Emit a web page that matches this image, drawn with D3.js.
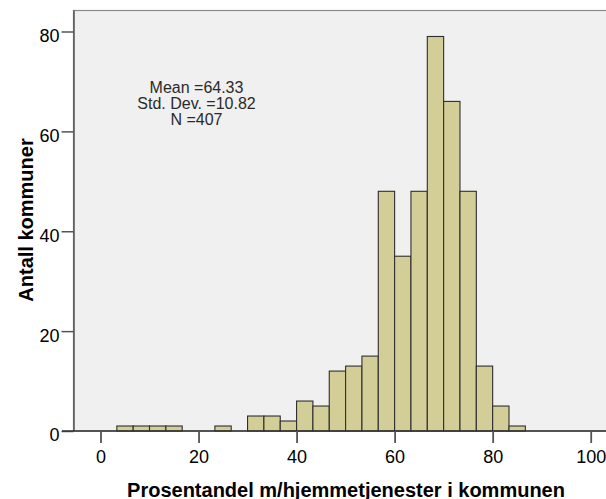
<!DOCTYPE html>
<html>
<head>
<meta charset="utf-8">
<script src="https://cdn.jsdelivr.net/npm/d3@7"></script>
<style>
  html, body { margin: 0; padding: 0; background: #ffffff; }
  svg { display: block; }
</style>
</head>
<body>
<svg id="chart" width="606" height="499"></svg>
<script>
// ---- data ----
const binWidth = 10 / 3;
const binLower = [3.333, 6.667, 10, 13.333, 23.333, 30, 33.333, 36.667, 40, 43.333, 46.667, 50, 53.333, 56.667, 60, 63.333, 66.667, 70, 73.333, 76.667, 80, 83.333];
const binCount = [1, 1, 1, 1, 1, 3, 3, 2, 6, 5, 12, 13, 15, 48, 35, 48, 79, 66, 48, 13, 5, 1];
const xTicks = [0, 20, 40, 60, 80, 100];
const yTicks = [0, 20, 40, 60, 80];
const statsLines = ["Mean =64.33", "Std. Dev. =10.82", "N =407"];
const xTitle = "Prosentandel m/hjemmetjenester i kommunen";
const yTitle = "Antall kommuner";

const bins = binLower.map((lo, i) => ({ x0: lo, x1: lo + binWidth, n: binCount[i] }));

const svg = d3.select("#chart");
const font = "Arial, 'Liberation Sans', Helvetica, sans-serif";

const frame = { left: 73.5, top: 10.5, bottom: 431, right: 640 };

const x = d3.scaleLinear().domain([0, 100]).range([100.5, 590.7]);
const y = d3.scaleLinear().domain([0, 80]).range([431, 31.5]);

// plot background frame
svg.append("rect")
  .attr("x", frame.left).attr("y", frame.top)
  .attr("width", frame.right - frame.left).attr("height", frame.bottom - frame.top)
  .attr("fill", "#f0f0f0")
  .attr("stroke", "#8a8a8a").attr("stroke-width", 1.2);

// bars
svg.append("g").selectAll("rect")
  .data(bins).join("rect")
  .attr("x", d => x(d.x0))
  .attr("y", d => y(d.n))
  .attr("width", d => x(d.x1) - x(d.x0))
  .attr("height", d => y(0) - y(d.n))
  .attr("fill", "#d3ce97")
  .attr("stroke", "#2e2e2e")
  .attr("stroke-width", 1.1);

// y axis
const yAxis = d3.axisLeft(y).tickValues(yTicks).tickSize(12).tickSizeOuter(0).tickPadding(2);
const gy = svg.append("g").attr("transform", `translate(${frame.left},0)`).call(yAxis);
gy.select(".domain").attr("stroke", "#555").attr("stroke-width", 1.5)
  .attr("d", `M0.5,${frame.top}V${frame.bottom}`);
gy.selectAll(".tick line").attr("stroke", "#555").attr("stroke-width", 1.5);
gy.selectAll(".tick text")
  .attr("font-family", font).attr("font-size", 18).attr("fill", "#000")
  .attr("dy", "0.55em");

// x axis
const xAxis = d3.axisBottom(x).tickValues(xTicks).tickSize(12).tickSizeOuter(0).tickPadding(7);
const gx = svg.append("g").attr("transform", `translate(0,${frame.bottom})`).call(xAxis);
gx.select(".domain").attr("stroke", "#333").attr("stroke-width", 1.5)
  .attr("d", `M62,0H${frame.right}`);
gx.selectAll(".tick line").attr("stroke", "#555").attr("stroke-width", 1.8);
gx.selectAll(".tick text")
  .attr("font-family", font).attr("font-size", 18).attr("fill", "#000");

// stats text
svg.append("g").selectAll("text")
  .data(statsLines).join("text")
  .attr("x", 196.5)
  .attr("y", (d, i) => 93 + i * 16)
  .attr("text-anchor", "middle")
  .attr("font-family", font).attr("font-size", 16)
  .attr("fill", "#2a2a2a")
  .text(d => d);

// axis titles
svg.append("text")
  .attr("x", 346).attr("y", 496.5)
  .attr("text-anchor", "middle")
  .attr("font-family", font).attr("font-size", 20).attr("font-weight", "bold")
  .text(xTitle);

svg.append("text")
  .attr("transform", "translate(32.5,220) rotate(-90)")
  .attr("text-anchor", "middle")
  .attr("font-family", font).attr("font-size", 20).attr("font-weight", "bold")
  .text(yTitle);
</script>
</body>
</html>
